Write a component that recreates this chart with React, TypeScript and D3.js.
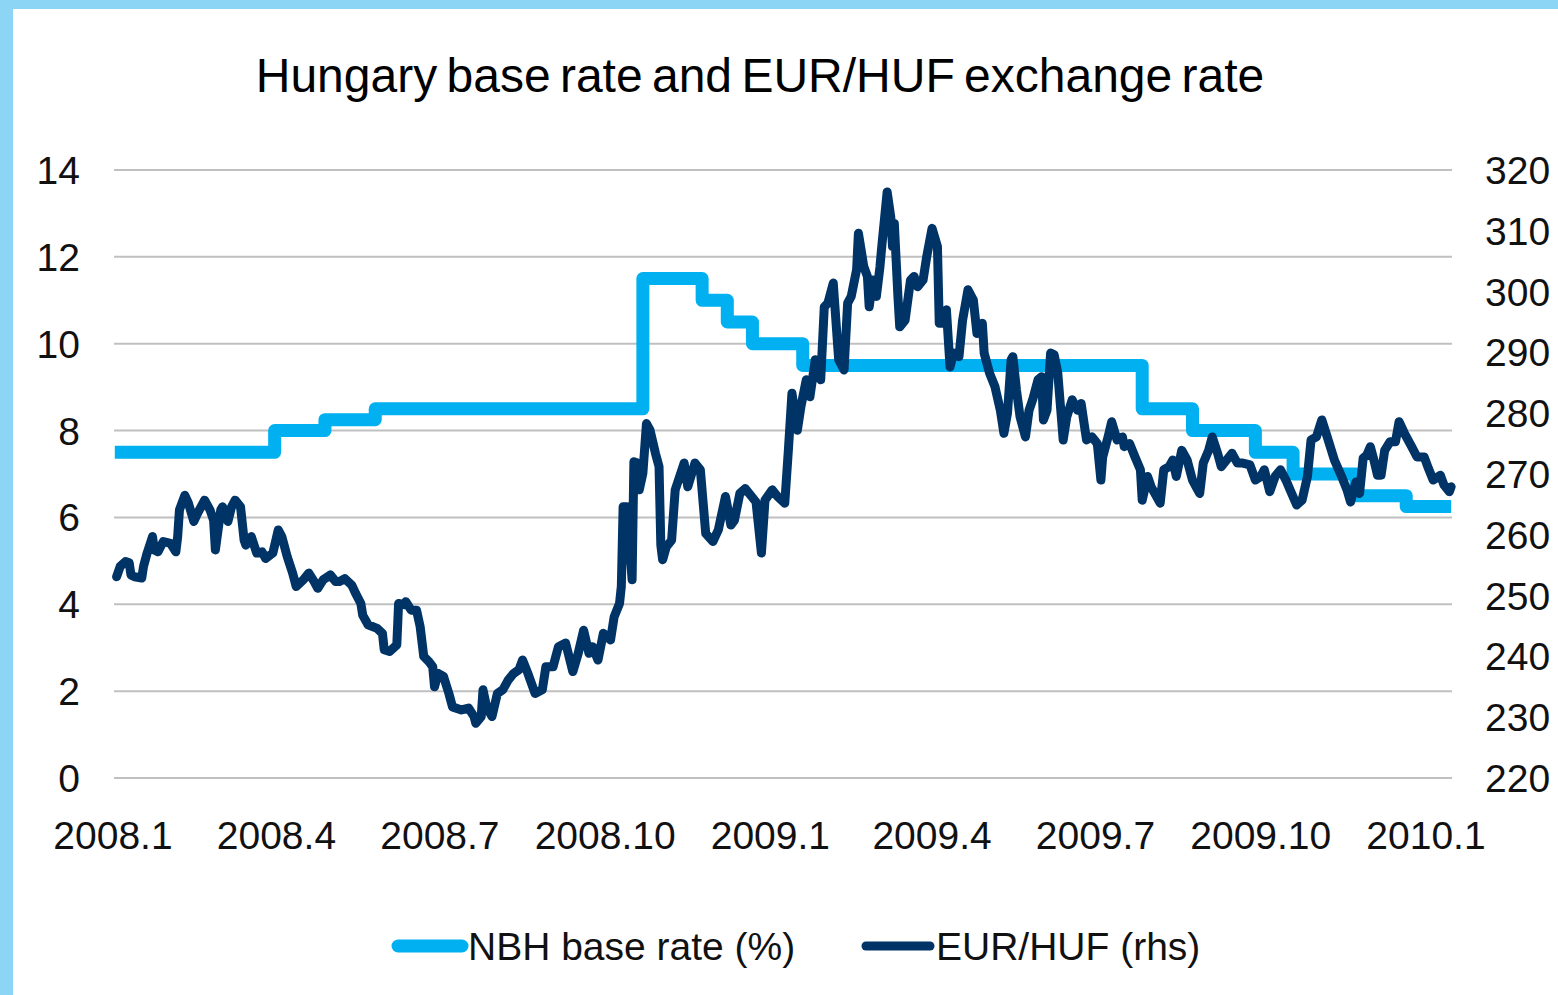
import { useEffect, useRef } from "react";
import * as d3 from "d3";

const TITLE = "Hungary base rate and EUR/HUF exchange rate";

// NBH base rate (%) - decision dates
const rateSteps: [string, number][] = [
  ["2008-01-02", 7.5],
  ["2008-03-31", 8.0],
  ["2008-04-28", 8.25],
  ["2008-05-26", 8.5],
  ["2008-10-22", 11.5],
  ["2008-11-24", 11.0],
  ["2008-12-08", 10.5],
  ["2008-12-22", 10.0],
  ["2009-01-19", 9.5],
  ["2009-07-27", 8.5],
  ["2009-08-24", 8.0],
  ["2009-09-28", 7.5],
  ["2009-10-19", 7.0],
  ["2009-11-23", 6.5],
  ["2009-12-21", 6.25],
  ["2010-01-15", 6.25],
];

// EUR/HUF
const eurHuf: [string, number][] = [
  ["2008-01-03", 253.1], ["2008-01-05", 254.8], ["2008-01-08", 255.6], ["2008-01-10", 255.4],
  ["2008-01-11", 253.4], ["2008-01-13", 253.1], ["2008-01-17", 252.9], ["2008-01-18", 254.8],
  ["2008-01-20", 257.0], ["2008-01-23", 259.7], ["2008-01-24", 257.5], ["2008-01-26", 257.2],
  ["2008-01-29", 258.9], ["2008-02-02", 258.6], ["2008-02-05", 257.2], ["2008-02-06", 259.7],
  ["2008-02-07", 264.1], ["2008-02-10", 266.5], ["2008-02-12", 265.2], ["2008-02-15", 262.2],
  ["2008-02-17", 263.5], ["2008-02-21", 265.7], ["2008-02-24", 264.1], ["2008-02-26", 262.4],
  ["2008-02-27", 257.5], ["2008-03-01", 264.1], ["2008-03-02", 264.6], ["2008-03-05", 262.2],
  ["2008-03-07", 264.6], ["2008-03-09", 265.7], ["2008-03-12", 264.6], ["2008-03-14", 259.1],
  ["2008-03-15", 258.3], ["2008-03-18", 259.7], ["2008-03-21", 257.0], ["2008-03-24", 257.2],
  ["2008-03-26", 256.1], ["2008-03-30", 257.0], ["2008-04-02", 260.8], ["2008-04-04", 259.7],
  ["2008-04-07", 256.4], ["2008-04-10", 253.7], ["2008-04-12", 251.5], ["2008-04-16", 252.6],
  ["2008-04-19", 253.7], ["2008-04-22", 252.3], ["2008-04-24", 251.2], ["2008-04-27", 252.6],
  ["2008-05-01", 253.4], ["2008-05-04", 252.3], ["2008-05-06", 252.3], ["2008-05-09", 252.8],
  ["2008-05-13", 251.7], ["2008-05-15", 250.4], ["2008-05-18", 248.7], ["2008-05-19", 246.8],
  ["2008-05-22", 245.2], ["2008-05-27", 244.6], ["2008-05-30", 243.8], ["2008-05-31", 241.1],
  ["2008-06-03", 240.8], ["2008-06-07", 241.9], ["2008-06-08", 248.7], ["2008-06-11", 248.5],
  ["2008-06-12", 249.0], ["2008-06-15", 247.6], ["2008-06-18", 247.6], ["2008-06-20", 244.9],
  ["2008-06-22", 240.0], ["2008-06-25", 239.1], ["2008-06-27", 238.3], ["2008-06-28", 235.0],
  ["2008-06-30", 237.2], ["2008-07-03", 236.7], ["2008-07-06", 233.9], ["2008-07-08", 231.7],
  ["2008-07-13", 231.2], ["2008-07-17", 231.5], ["2008-07-20", 230.1], ["2008-07-21", 229.0],
  ["2008-07-24", 230.1], ["2008-07-25", 234.5], ["2008-07-27", 231.7], ["2008-07-30", 230.1],
  ["2008-08-02", 233.9], ["2008-08-05", 234.5], ["2008-08-08", 236.1], ["2008-08-11", 237.2],
  ["2008-08-14", 237.8], ["2008-08-16", 239.4], ["2008-08-19", 237.2], ["2008-08-23", 233.9],
  ["2008-08-27", 234.5], ["2008-08-29", 238.3], ["2008-09-02", 238.3], ["2008-09-05", 241.6],
  ["2008-09-09", 242.2], ["2008-09-13", 237.5], ["2008-09-16", 240.5], ["2008-09-19", 244.3],
  ["2008-09-22", 240.5], ["2008-09-24", 241.6], ["2008-09-27", 239.4], ["2008-09-30", 243.8],
  ["2008-10-04", 242.7], ["2008-10-06", 246.5], ["2008-10-09", 248.7], ["2008-10-10", 251.5],
  ["2008-10-11", 264.6], ["2008-10-13", 264.6], ["2008-10-16", 252.6], ["2008-10-17", 272.0],
  ["2008-10-19", 271.8], ["2008-10-20", 267.4], ["2008-10-22", 270.1], ["2008-10-24", 278.3],
  ["2008-10-26", 277.2], ["2008-10-29", 273.4], ["2008-10-31", 271.2], ["2008-11-01", 258.3],
  ["2008-11-02", 255.9], ["2008-11-04", 258.0], ["2008-11-07", 259.1], ["2008-11-09", 267.4],
  ["2008-11-14", 271.8], ["2008-11-16", 267.9], ["2008-11-20", 271.8], ["2008-11-23", 270.7],
  ["2008-11-26", 260.2], ["2008-11-30", 258.9], ["2008-12-03", 260.8], ["2008-12-07", 266.3],
  ["2008-12-10", 261.6], ["2008-12-12", 262.4], ["2008-12-15", 266.8], ["2008-12-18", 267.6],
  ["2008-12-21", 266.5], ["2008-12-24", 265.4], ["2008-12-27", 257.0], ["2008-12-29", 265.7],
  ["2009-01-02", 267.4], ["2009-01-05", 266.3], ["2009-01-09", 265.2], ["2009-01-11", 273.9],
  ["2009-01-13", 283.3], ["2009-01-16", 277.2], ["2009-01-18", 281.1], ["2009-01-21", 285.5],
  ["2009-01-23", 282.7], ["2009-01-26", 288.8], ["2009-01-29", 285.5], ["2009-01-31", 297.5],
  ["2009-02-02", 298.1], ["2009-02-05", 301.4], ["2009-02-08", 288.8], ["2009-02-11", 287.1],
  ["2009-02-13", 298.1], ["2009-02-15", 299.2], ["2009-02-18", 303.6], ["2009-02-19", 309.6],
  ["2009-02-22", 304.1], ["2009-02-24", 302.5], ["2009-02-25", 297.5], ["2009-02-27", 301.9],
  ["2009-03-01", 299.2], ["2009-03-03", 304.1], ["2009-03-04", 307.4], ["2009-03-07", 316.4],
  ["2009-03-09", 312.3], ["2009-03-10", 307.4], ["2009-03-11", 311.2], ["2009-03-13", 299.2],
  ["2009-03-14", 294.2], ["2009-03-17", 295.3], ["2009-03-20", 301.9], ["2009-03-22", 302.5],
  ["2009-03-24", 300.8], ["2009-03-27", 301.9], ["2009-03-29", 305.7], ["2009-04-01", 310.4],
  ["2009-04-04", 307.4], ["2009-04-05", 294.8], ["2009-04-07", 294.8], ["2009-04-09", 297.0],
  ["2009-04-11", 287.6], ["2009-04-13", 289.9], ["2009-04-16", 289.3], ["2009-04-18", 295.3],
  ["2009-04-21", 300.3], ["2009-04-24", 298.6], ["2009-04-26", 293.1], ["2009-04-29", 294.8],
  ["2009-04-30", 289.9], ["2009-05-03", 286.6], ["2009-05-06", 284.4], ["2009-05-09", 280.5],
  ["2009-05-11", 276.7], ["2009-05-13", 280.0], ["2009-05-15", 288.8], ["2009-05-16", 289.3],
  ["2009-05-18", 283.8], ["2009-05-20", 279.4], ["2009-05-23", 276.1], ["2009-05-25", 280.5],
  ["2009-05-27", 282.2], ["2009-05-30", 285.5], ["2009-06-01", 286.0], ["2009-06-02", 278.9],
  ["2009-06-04", 280.5], ["2009-06-06", 289.9], ["2009-06-08", 289.6], ["2009-06-10", 286.6],
  ["2009-06-13", 275.6], ["2009-06-15", 279.4], ["2009-06-18", 282.2], ["2009-06-21", 280.5],
  ["2009-06-23", 281.6], ["2009-06-26", 275.6], ["2009-06-29", 276.1], ["2009-07-02", 275.0],
  ["2009-07-04", 269.0], ["2009-07-05", 272.8], ["2009-07-08", 276.1], ["2009-07-10", 278.6],
  ["2009-07-13", 275.6], ["2009-07-16", 276.1], ["2009-07-17", 274.5], ["2009-07-20", 275.0],
  ["2009-07-23", 272.8], ["2009-07-26", 270.7], ["2009-07-27", 265.7], ["2009-07-30", 269.6],
  ["2009-08-01", 267.9], ["2009-08-03", 266.8], ["2009-08-06", 265.2], ["2009-08-08", 270.7],
  ["2009-08-11", 271.2], ["2009-08-13", 272.3], ["2009-08-15", 269.6], ["2009-08-18", 273.9],
  ["2009-08-21", 272.3], ["2009-08-24", 269.0], ["2009-08-26", 267.9], ["2009-08-28", 266.8],
  ["2009-08-30", 271.8], ["2009-09-02", 273.9], ["2009-09-04", 276.1], ["2009-09-07", 273.4],
  ["2009-09-09", 271.2], ["2009-09-12", 272.3], ["2009-09-15", 273.4], ["2009-09-18", 271.8],
  ["2009-09-21", 271.8], ["2009-09-25", 271.5], ["2009-09-28", 269.0], ["2009-10-01", 269.6],
  ["2009-10-03", 270.7], ["2009-10-06", 267.1], ["2009-10-09", 269.6], ["2009-10-12", 270.7],
  ["2009-10-15", 269.0], ["2009-10-17", 267.6], ["2009-10-21", 264.9], ["2009-10-24", 265.7],
  ["2009-10-27", 269.6], ["2009-10-29", 275.6], ["2009-11-01", 276.1], ["2009-11-04", 278.9],
  ["2009-11-07", 276.1], ["2009-11-11", 272.3], ["2009-11-15", 269.6], ["2009-11-18", 267.4],
  ["2009-11-20", 265.4], ["2009-11-23", 268.7], ["2009-11-25", 266.8], ["2009-11-27", 272.6],
  ["2009-11-29", 273.1], ["2009-12-01", 274.5], ["2009-12-03", 272.3], ["2009-12-05", 269.8],
  ["2009-12-07", 269.8], ["2009-12-09", 273.9], ["2009-12-12", 275.3], ["2009-12-15", 275.3],
  ["2009-12-17", 278.6], ["2009-12-20", 276.7], ["2009-12-24", 274.5], ["2009-12-27", 272.8],
  ["2009-12-31", 272.8], ["2010-01-02", 271.2], ["2010-01-05", 269.0], ["2010-01-09", 269.8],
  ["2010-01-11", 268.2], ["2010-01-14", 267.1], ["2010-01-15", 267.9],
];

const leftTicks = [0, 2, 4, 6, 8, 10, 12, 14];
const rightTicks = [220, 230, 240, 250, 260, 270, 280, 290, 300, 310, 320];
const xTickLabels = ["2008.1", "2008.4", "2008.7", "2008.10", "2009.1", "2009.4", "2009.7", "2009.10", "2010.1"];
const legendItems = [
  { name: "NBH base rate (%)", color: "#00b0f0", width: 13 },
  { name: "EUR/HUF (rhs)", color: "#003366", width: 9 },
];

const W = 1558;
const H = 995;
const FONT = "'Liberation Sans', Arial, sans-serif";

export default function App() {
  const ref = useRef<SVGSVGElement>(null);

  useEffect(() => {
    if (!ref.current) return;
    const svg = d3.select(ref.current);
    svg.selectAll("*").remove();

    const parse = d3.timeParse("%Y-%m-%d");

    // frame
    svg.append("rect").attr("width", W).attr("height", H).attr("fill", "#8dd5f5");
    svg.append("rect").attr("x", 13).attr("y", 9).attr("width", W - 13).attr("height", H - 9).attr("fill", "#fff");

    const x = d3.scaleTime()
      .domain([parse("2008-01-01")!, parse("2010-01-01")!])
      .range([113, 1426]);
    const yL = d3.scaleLinear().domain([0, 14]).range([778, 170]);
    const yR = d3.scaleLinear().domain([220, 320]).range([778, 170]);

    // title
    svg.append("text")
      .attr("x", 760)
      .attr("y", 92)
      .attr("text-anchor", "middle")
      .attr("font-family", FONT)
      .attr("font-size", 48)
      .attr("word-spacing", -4)
      .attr("fill", "#000")
      .text(TITLE);

    // gridlines
    svg.append("g")
      .selectAll("line")
      .data(leftTicks)
      .join("line")
      .attr("x1", 114)
      .attr("x2", 1452)
      .attr("y1", (d) => yL(d))
      .attr("y2", (d) => yL(d))
      .attr("stroke", "#c0c0c0")
      .attr("stroke-width", 2);

    // left axis labels
    svg.append("g")
      .selectAll("text")
      .data(leftTicks)
      .join("text")
      .attr("x", 80)
      .attr("y", (d) => yL(d) + 14)
      .attr("text-anchor", "end")
      .attr("font-family", FONT)
      .attr("font-size", 39)
      .attr("fill", "#111")
      .text((d) => d);

    // right axis labels
    svg.append("g")
      .selectAll("text")
      .data(rightTicks)
      .join("text")
      .attr("x", 1485)
      .attr("y", (d) => yR(d) + 14)
      .attr("text-anchor", "start")
      .attr("font-family", FONT)
      .attr("font-size", 39)
      .attr("fill", "#111")
      .text((d) => d);

    // x labels, quarterly
    const xTicks = d3.timeMonth.every(3)!.range(parse("2008-01-01")!, parse("2010-01-02")!);
    svg.append("g")
      .selectAll("text")
      .data(xTicks)
      .join("text")
      .attr("x", (d) => x(d))
      .attr("y", 849)
      .attr("text-anchor", "middle")
      .attr("font-family", FONT)
      .attr("font-size", 39)
      .attr("fill", "#111")
      .text((_, i) => xTickLabels[i]);

    // base rate
    const rateLine = d3.line<[string, number]>()
      .x((d) => x(parse(d[0])!))
      .y((d) => yL(d[1]))
      .curve(d3.curveStepAfter);
    svg.append("path")
      .datum(rateSteps)
      .attr("d", rateLine)
      .attr("fill", "none")
      .attr("stroke", legendItems[0].color)
      .attr("stroke-width", legendItems[0].width)
      .attr("stroke-linejoin", "round");

    // EUR/HUF
    const fxLine = d3.line<[string, number]>()
      .x((d) => x(parse(d[0])!))
      .y((d) => yR(d[1]));
    svg.append("path")
      .datum(eurHuf)
      .attr("d", fxLine)
      .attr("fill", "none")
      .attr("stroke", legendItems[1].color)
      .attr("stroke-width", legendItems[1].width)
      .attr("stroke-linejoin", "round")
      .attr("stroke-linecap", "round");

    // legend
    const legendX = [392, 860];
    const lg = svg.append("g")
      .selectAll("g")
      .data(legendItems)
      .join("g")
      .attr("transform", (_, i) => `translate(${legendX[i]},946)`);
    lg.append("line")
      .attr("x1", 6)
      .attr("x2", 70)
      .attr("stroke", (d) => d.color)
      .attr("stroke-width", (d) => d.width)
      .attr("stroke-linecap", "round");
    lg.append("text")
      .attr("x", 76)
      .attr("y", 14)
      .attr("font-family", FONT)
      .attr("font-size", 39)
      .attr("fill", "#111")
      .text((d) => d.name);
  }, []);

  return (
    <svg
      ref={ref}
      width={W}
      height={H}
      style={{ position: "absolute", left: 0, top: 0, display: "block" }}
    />
  );
}
